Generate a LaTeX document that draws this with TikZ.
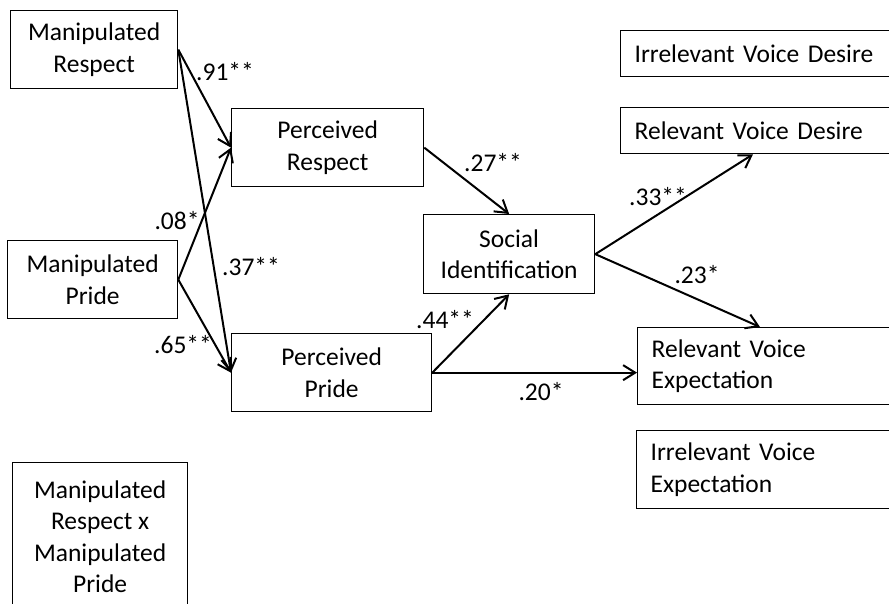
\documentclass[tikz,border=0pt]{standalone}
\usepackage{fontspec}
\setmainfont{Carlito}
\usetikzlibrary{arrows.meta,calc}

\tikzset{
  box/.style={draw, line width=1.3pt, inner sep=0pt, anchor=north west, align=center},
  lbox/.style={draw, line width=1.3pt, inner xsep=14pt, inner ysep=0pt, anchor=north west, align=left},
  path/.style={line width=2pt, -{Straight Barb[length=12pt,width=15pt,line width=2pt]}},
  coef/.style={inner sep=0pt}
}

\begin{document}
\begin{tikzpicture}[x=1pt,y=-1pt,font=\fontsize{25.5}{31.5}\selectfont]
  \useasboundingbox (0,0) rectangle (889,603);
  \clip (0,0) rectangle (889,603);
  % Manipulations
  \node[box, minimum width=167pt, minimum height=78pt] (MRes) at (10,10) {Manipulated\\Respect};
  \node[box, minimum width=170pt, minimum height=78pt] (MPri) at (7,240) {Manipulated\\Pride};
  \node[box, minimum width=175pt, minimum height=148pt] (MInt) at (12,462) {Manipulated\\Respect x\\Manipulated\\Pride};
  % Mediators
  \node[box, minimum width=192pt, minimum height=78pt] (PRes) at (231,108) {Perceived\\Respect};
  \node[box, minimum width=200pt, minimum height=78pt] (PPri) at (231,333) {Perceived\\Pride};
  \node[box, minimum width=171pt, minimum height=79pt] (SocId) at (423,214) {Social\\Identification};
  % Outcomes
  \node[lbox, text width=262pt, minimum height=46pt] (IVD) at (620,30) {Irrelevant Voice Desire};
  \node[lbox, text width=262pt, minimum height=46pt] (RVD) at (620,107) {Relevant Voice Desire};
  \node[lbox, text width=245pt, minimum height=77pt] (RVE) at (637,327) {Relevant Voice\\Expectation};
  \node[lbox, text width=246pt, minimum height=78pt] (IVE) at (636,430) {Irrelevant Voice\\Expectation};
  % Paths
  \draw[path] (MRes.east) -- (PRes.west);
  \draw[path] (MRes.east) -- (PPri.west);
  \draw[path] (MPri.east) -- (PRes.west);
  \draw[path] (MPri.east) -- (PPri.west);
  \draw[path] (PRes.east) -- (SocId.north);
  \draw[path] (PPri.east) -- (SocId.south);
  \draw[path] (PPri.east) -- (PPri.east -| RVE.west);
  \draw[path] (SocId.east) -- ($(RVD.south west)+(133,0)$);
  \draw[path] (SocId.east) -- ($(RVE.north west)+(123,0)$);
  % Coefficients
  \node[coef] (c91) at (225,72) {.91**};
  \node[coef] (c08) at (177,221) {.08*};
  \node[coef] (c37) at (251,267) {.37**};
  \node[coef] (c65) at (183,345) {.65**};
  \node[coef] (c27) at (493,163) {.27**};
  \node[coef] (c33) at (658,197) {.33**};
  \node[coef] (c23) at (697,275) {.23*};
  \node[coef] (c44) at (445,320) {.44**};
  \node[coef] (c20) at (541,392) {.20*};
\end{tikzpicture}
\end{document}
